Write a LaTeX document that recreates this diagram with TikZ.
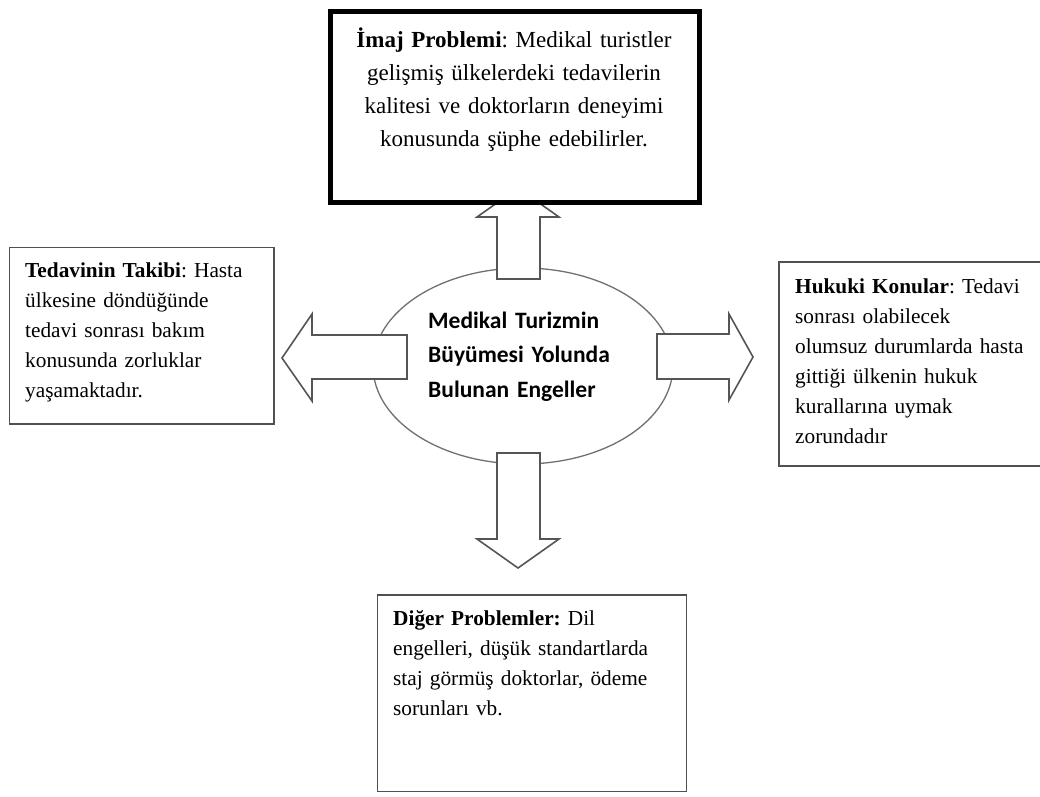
\documentclass[tikz,border=0pt]{standalone}
\usepackage{fontspec}
\setmainfont{Liberation Serif}
\newfontfamily\calibfont{Carlito}
\usetikzlibrary{shapes.geometric}

\definecolor{boxgray}{HTML}{505050}
\definecolor{arrowgray}{HTML}{555555}
\definecolor{ellgray}{HTML}{707070}

\begin{document}
\frenchspacing
\begin{tikzpicture}[x=1pt,y=-1pt,
  box/.style={draw=boxgray, line width=1.8pt, fill=white, inner sep=0pt},
  blockarrow/.style={draw=arrowgray, line width=1.6pt, fill=white, line join=miter},
  boxtext/.style={anchor=base west, inner sep=0pt, text width=#1, align=left,
    font=\frenchspacing\fontsize{21.3}{30}\selectfont, text=black}]

\useasboundingbox (0,0) rectangle (1040,796);

% central ellipse
\node[ellipse, draw=ellgray, line width=1.3pt, fill=white, inner sep=0pt,
      minimum width=300pt, minimum height=196pt] (core) at (523,366) {};
\node[anchor=base west, inner sep=0pt, text width=220pt, align=left,
      font=\calibfont\bfseries\fontsize{23.5}{34.5}\selectfont, text=black]
      (coretxt) at (428,328) {Medikal Turizmin\\Büyümesi Yolunda\\Bulunan Engeller};

% block arrows leaving the ellipse
\draw[blockarrow] (497,279) -- (497,217) -- (477,217) -- (518,188) -- (559,217)
  -- (540,217) -- (540,279) -- cycle;
\draw[blockarrow] (497,453) -- (497,539) -- (477,539) -- (518,568) -- (559,539)
  -- (540,539) -- (540,453) -- cycle;
\draw[blockarrow] (407,335) -- (312,335) -- (312,314) -- (282,358) -- (312,401)
  -- (312,379) -- (407,379) -- cycle;
\draw[blockarrow] (657,334) -- (729,334) -- (729,314) -- (753,357) -- (729,400)
  -- (729,379) -- (657,379) -- cycle;

% top box
\node[box, draw=black, line width=5pt, minimum width=369pt, minimum height=191pt]
  (imaj) at (514.5,106.5) {};
\node[anchor=base, inner sep=0pt, text width=400pt, align=center,
      font=\frenchspacing\fontsize{23}{33}\selectfont, text=black] (imajtxt) at (514,47)
  {\textbf{İmaj Problemi}: Medikal turistler\\gelişmiş ülkelerdeki tedavilerin\\kalitesi ve doktorların deneyimi\\konusunda şüphe edebilirler.};

% left box
\node[box, minimum width=264.5pt, minimum height=176.5pt] (takip) at (141.75,335.75) {};
\node[boxtext=250pt] (takiptxt) at (25,277)
  {\textbf{Tedavinin Takibi}: Hasta\\ülkesine döndüğünde\\tedavi sonrası bakım\\konusunda zorluklar\\yaşamaktadır.};

% right box
\node[box, minimum width=266pt, minimum height=204pt] (hukuk) at (912,364) {};
\node[boxtext=250pt] (hukuktxt) at (795,293)
  {\textbf{Hukuki Konular}: Tedavi\\sonrası olabilecek\\olumsuz durumlarda hasta\\gittiği ülkenin hukuk\\kurallarına uymak\\zorundadır};

% bottom box
\node[box, minimum width=309pt, minimum height=196.5pt] (diger) at (532,693.25) {};
\node[boxtext=290pt] (digertxt) at (393,625)
  {\textbf{Diğer Problemler:} Dil\\engelleri, düşük standartlarda\\staj görmüş doktorlar, ödeme\\sorunları vb.};

\end{tikzpicture}
\end{document}
